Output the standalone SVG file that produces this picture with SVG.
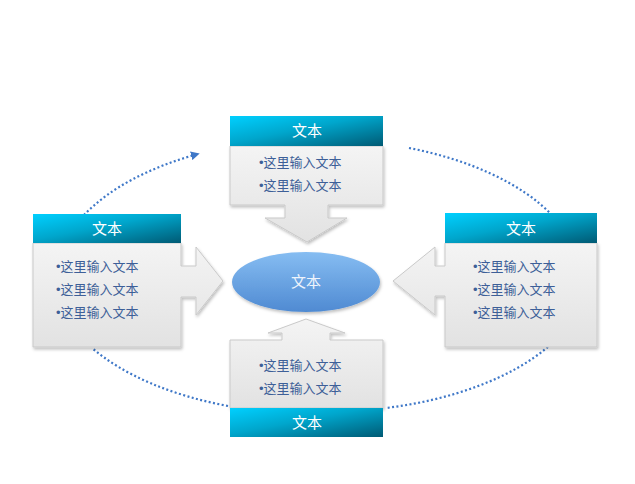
<svg xmlns="http://www.w3.org/2000/svg" width="635" height="484" viewBox="0 0 635 484">
<defs>
<linearGradient id="hdr" x1="0" y1="0" x2="1" y2="1">
<stop offset="0" stop-color="#00d0ff"/>
<stop offset="0.45" stop-color="#00a6cc"/>
<stop offset="1" stop-color="#005a74"/>
</linearGradient>
<linearGradient id="body" x1="0" y1="0" x2="0" y2="1">
<stop offset="0" stop-color="#f4f4f4"/>
<stop offset="1" stop-color="#e2e2e2"/>
</linearGradient>
<linearGradient id="oval" x1="0" y1="0" x2="0" y2="1">
<stop offset="0" stop-color="#86bdf2"/>
<stop offset="1" stop-color="#4f8ad2"/>
</linearGradient>
<filter id="sh" x="-10%" y="-10%" width="120%" height="125%">
<feDropShadow dx="1" dy="2" stdDeviation="1.5" flood-color="#000" flood-opacity="0.25"/>
</filter>
<marker id="ah" viewBox="0 0 10 10" refX="8" refY="5" markerWidth="4" markerHeight="4" orient="auto">
<path d="M0,0 L10,5 L0,10 Z" fill="#3f78c8"/>
</marker>
<style>
.bd{fill:url(#body);stroke:#c9c9c9;stroke-width:1;filter:url(#sh)}
.hd{fill:url(#hdr)}
.ht{font-family:"Noto Sans CJK SC","Liberation Sans",sans-serif;font-size:15px;fill:#ffffff;text-anchor:middle}
.bt{font-family:"Noto Sans CJK SC","Liberation Serif",serif;font-size:13px;fill:#3d5f98}
.bu{font-family:"Liberation Sans",sans-serif}
.dot{fill:none;stroke:#3f78c8;stroke-width:2.2;stroke-dasharray:2 2.4}
</style>
</defs>
<g id="connectors">
<path class="dot" d="M84,215 A262,139 0 0 1 198,154" marker-end="url(#ah)"/>
<path class="dot" d="M409,148 A262,139 0 0 1 551,214"/>
<path class="dot" d="M548,347 A262,139 0 0 1 386,408"/>
<path class="dot" d="M228,406 A262,139 0 0 1 92,348"/>
</g>
<g id="node-top">
<path class="bd" d="M230,146 H383 V205 H328 V218 H347 L307,242 L265,218 H285 V205 H230 Z"/>
<rect class="hd" x="230" y="116" width="153" height="30"/>
<text class="ht" x="307" y="136">文本</text>
<text class="bt" x="259" y="167"><tspan class="bu">•</tspan>这里输入文本</text>
<text class="bt" x="259" y="190"><tspan class="bu">•</tspan>这里输入文本</text>
</g>
<g id="node-left">
<path class="bd" d="M33,243 H181 V266 H196 V247 L223,281 L196,315 V297 H181 V347 H33 Z"/>
<rect class="hd" x="33" y="214" width="148" height="29"/>
<text class="ht" x="107" y="234">文本</text>
<text class="bt" x="56" y="271"><tspan class="bu">•</tspan>这里输入文本</text>
<text class="bt" x="56" y="294"><tspan class="bu">•</tspan>这里输入文本</text>
<text class="bt" x="56" y="317"><tspan class="bu">•</tspan>这里输入文本</text>
</g>
<g id="node-right">
<path class="bd" d="M445,243 H597 V347 H445 V296 H435 V315 L393,281 L435,247 V266 H445 Z"/>
<rect class="hd" x="445" y="213" width="152" height="30"/>
<text class="ht" x="521" y="234">文本</text>
<text class="bt" x="473" y="271"><tspan class="bu">•</tspan>这里输入文本</text>
<text class="bt" x="473" y="294"><tspan class="bu">•</tspan>这里输入文本</text>
<text class="bt" x="473" y="317"><tspan class="bu">•</tspan>这里输入文本</text>
</g>
<g id="node-bottom">
<path class="bd" d="M230,340 H282 V333 H268 L306,319 L345,333 H330 V340 H383 V408 H230 Z"/>
<rect class="hd" x="230" y="408" width="153" height="29"/>
<text class="ht" x="307" y="428">文本</text>
<text class="bt" x="259" y="370"><tspan class="bu">•</tspan>这里输入文本</text>
<text class="bt" x="259" y="393"><tspan class="bu">•</tspan>这里输入文本</text>
</g>
<g id="node-center">
<ellipse cx="306" cy="282" rx="74" ry="30" fill="url(#oval)" filter="url(#sh)"/>
<text class="ht" x="306" y="287" style="fill:#eef4fc">文本</text>
</g>
</svg>
